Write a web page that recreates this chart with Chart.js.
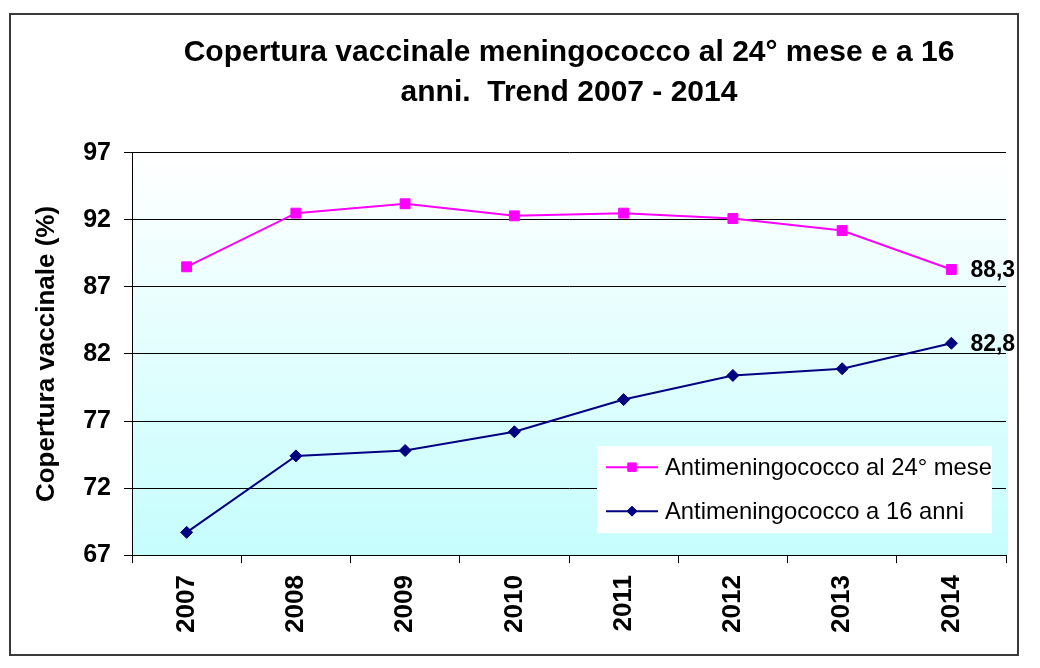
<!DOCTYPE html>
<html>
<head>
<meta charset="utf-8">
<script src="https://cdn.jsdelivr.net/npm/chart.js@4/dist/chart.umd.min.js"></script>
<style>
  html, body { margin: 0; padding: 0; background: #fff; }
  #frame {
    position: absolute; left: 9px; top: 13px;
    width: 1006px; height: 639px;
    border: 2px solid #3a3a3a;
  }
  #chart { display: block; }
</style>
</head>
<body>
<div id="frame"><canvas id="chart" width="1006" height="639"></canvas></div>
<script>
// data
const years = ['2007', '2008', '2009', '2010', '2011', '2012', '2013', '2014'];
const cov24mesi = [88.5, 92.5, 93.2, 92.3, 92.5, 92.1, 91.2, 88.3];
const cov16anni = [68.7, 74.4, 74.8, 76.2, 78.6, 80.4, 80.9, 82.8];
const yTicks = [67, 72, 77, 82, 87, 92, 97];
const seriesNames = ['Antimeningococco al 24° mese', 'Antimeningococco a 16 anni'];
const titleLines = ['Copertura vaccinale meningococco al 24° mese e a 16', 'anni.  Trend 2007 - 2014'];
const yTitle = 'Copertura vaccinale (%)';

const FONT = "'Liberation Sans', Arial, sans-serif";

// light cyan gradient behind the plot
const plotBg = {
  id: 'plotBg',
  beforeDraw(chart) {
    const {ctx, chartArea: a} = chart;
    const g = ctx.createLinearGradient(0, a.top, 0, a.bottom);
    g.addColorStop(0, '#ffffff');
    g.addColorStop(1, '#c6fdfd');
    ctx.save();
    ctx.fillStyle = g;
    ctx.fillRect(a.left, a.top, a.right - a.left + 2, a.bottom - a.top);
    ctx.restore();
  }
};

// value labels next to the last point of each line
const lastLabels = {
  id: 'lastLabels',
  afterDatasetsDraw(chart) {
    const ctx = chart.ctx;
    ctx.save();
    ctx.font = 'bold 23px ' + FONT;
    ctx.fillStyle = '#000';
    ctx.textAlign = 'left';
    ctx.textBaseline = 'middle';
    chart.data.datasets.forEach((ds, i) => {
      const meta = chart.getDatasetMeta(i);
      const n = ds.data.length - 1;
      const pt = meta.data[n];
      ctx.fillText(ds.data[n].toFixed(1).replace('.', ','), pt.x + 19, pt.y + 1);
    });
    ctx.restore();
  }
};

// legend box sitting inside the plot, bottom right
const innerLegend = {
  id: 'innerLegend',
  afterDraw(chart) {
    const {ctx, chartArea: a} = chart;
    const x0 = a.left + 465, x1 = a.right - 14;
    const y0 = a.bottom - 109, y1 = a.bottom - 22;
    ctx.save();
    ctx.fillStyle = '#fff';
    ctx.fillRect(x0, y0, x1 - x0, y1 - y0);
    ctx.font = '23.8px ' + FONT;
    ctx.textBaseline = 'middle';
    ctx.textAlign = 'left';
    chart.data.datasets.forEach((ds, i) => {
      const y = y0 + 21 + i * 44;
      ctx.strokeStyle = ds.borderColor;
      ctx.lineWidth = 2;
      ctx.beginPath();
      ctx.moveTo(x0 + 9, y);
      ctx.lineTo(x0 + 61, y);
      ctx.stroke();
      ctx.fillStyle = ds.pointBackgroundColor;
      ctx.strokeStyle = ds.pointBorderColor;
      ctx.lineWidth = 1;
      Chart.helpers.drawPoint(ctx, {pointStyle: ds.pointStyle, radius: ds.pointRadius - 1, borderWidth: 1}, x0 + 35, y);
      ctx.fillStyle = '#000';
      ctx.fillText(ds.label, x0 + 68, y + 1);
    });
    ctx.restore();
  }
};

new Chart(document.getElementById('chart'), {
  type: 'line',
  data: {
    labels: years,
    datasets: [
      {
        label: seriesNames[0],
        data: cov24mesi,
        borderColor: '#ff00ff',
        backgroundColor: '#ff00ff',
        pointBackgroundColor: '#ff00ff',
        pointBorderColor: '#ff00ff',
        borderWidth: 2,
        pointStyle: 'rect',
        pointRadius: 7,
        pointBorderWidth: 1,
        tension: 0
      },
      {
        label: seriesNames[1],
        data: cov16anni,
        borderColor: '#000080',
        backgroundColor: '#000080',
        pointBackgroundColor: '#000080',
        pointBorderColor: '#000080',
        borderWidth: 2,
        pointStyle: 'rectRot',
        pointRadius: 6,
        pointBorderWidth: 1,
        tension: 0
      }
    ]
  },
  options: {
    responsive: false,
    animation: false,
    layout: { padding: { left: 0, right: 11, top: 0, bottom: 9 } },
    plugins: {
      legend: { display: false },
      tooltip: { enabled: false },
      title: {
        display: true,
        text: titleLines,
        fullSize: false,
        color: '#000',
        font: { family: FONT, size: 30, weight: 'bold', lineHeight: 1.33 },
        padding: { top: 18, bottom: 40 }
      }
    },
    scales: {
      x: {
        offset: true,
        grid: { offset: true, drawOnChartArea: false, drawTicks: true, tickLength: 8, color: '#000' },
        border: { display: true, color: '#000', width: 1 },
        ticks: {
          color: '#000',
          minRotation: 90,
          maxRotation: 90,
          padding: 12,
          font: { family: FONT, size: 26, weight: 'bold' }
        }
      },
      y: {
        min: yTicks[0],
        max: yTicks[yTicks.length - 1],
        afterBuildTicks(scale) { scale.ticks = yTicks.map(v => ({ value: v })); },
        afterFit(scale) { scale.width = 121; },
        grid: { color: '#000', lineWidth: 1, tickLength: 8 },
        border: { display: true, color: '#000', width: 1 },
        ticks: {
          color: '#000',
          padding: 13,
          font: { family: FONT, size: 25, weight: 'bold' }
        },
        title: {
          display: true,
          text: yTitle,
          color: '#000',
          padding: { top: 20, bottom: 20 },
          font: { family: FONT, size: 26, weight: 'bold', lineHeight: 1.2 }
        }
      }
    }
  },
  plugins: [plotBg, lastLabels, innerLegend]
});
</script>
</body>
</html>
